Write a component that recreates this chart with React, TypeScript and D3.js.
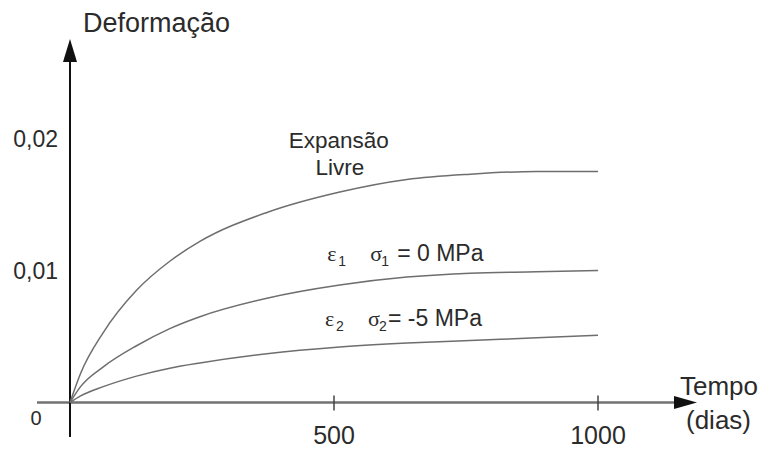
import React, { useEffect, useRef } from "react";
import * as d3 from "d3";

// leitura aproximada do gráfico (dias x deformação)
const days = [0, 20, 63, 126, 189, 246, 373, 511, 638, 758, 884, 1000];
const livre = [0, 0.0022, 0.0053, 0.0085, 0.0107, 0.0122, 0.0144, 0.01595, 0.0169, 0.0173, 0.0175, 0.0175];
const sigma0 = [0, 0.0012, 0.0027, 0.0043, 0.0056, 0.0065, 0.0079, 0.0089, 0.0095, 0.0098, 0.0099, 0.01];
const sigma5 = [0, 0.0005, 0.0012, 0.002, 0.0026, 0.003, 0.0037, 0.0042, 0.0045, 0.0047, 0.0049, 0.0051];

const xTicks = [500, 1000];
const yTicks = [0.01, 0.02];
const yTickLabels = ["0,01", "0,02"];

export default function App() {
    const ref = useRef<SVGSVGElement>(null);

    useEffect(() => {
        const svg = d3.select(ref.current);
        svg.selectAll("*").remove();

        const x = d3.scaleLinear().domain([0, 1000]).range([70, 598]);
        const y = d3.scaleLinear().domain([0, 0.02]).range([402.5, 138.5]);
        const font = "'Liberation Sans', Arial, sans-serif";
        const serif = "'Liberation Serif', 'DejaVu Serif', serif";
        const ink = "#2b2b2b";

        // eixos
        svg.append("line")
            .attr("x1", 37).attr("x2", 680)
            .attr("y1", y(0)).attr("y2", y(0))
            .attr("stroke", "#727272").attr("stroke-width", 2.5);
        svg.append("polygon")
            .attr("points", [[697, y(0)], [674, y(0) - 6.5], [674, y(0) + 6.5]].join(" "))
            .attr("fill", "#111");

        svg.append("line")
            .attr("x1", x(0)).attr("x2", x(0))
            .attr("y1", 437).attr("y2", 58)
            .attr("stroke", "#111").attr("stroke-width", 2);
        svg.append("polygon")
            .attr("points", [[x(0), 39], [x(0) - 7, 62], [x(0) + 7, 62]].join(" "))
            .attr("fill", "#111");

        // ticks do eixo x
        svg.selectAll(".xtick")
            .data(xTicks)
            .enter()
            .append("line")
            .attr("x1", d => x(d)).attr("x2", d => x(d))
            .attr("y1", y(0) - 7).attr("y2", y(0) + 8)
            .attr("stroke", "#444").attr("stroke-width", 1.5);

        svg.selectAll(".xlabel")
            .data(xTicks)
            .enter()
            .append("text")
            .attr("x", d => x(d)).attr("y", 444)
            .attr("text-anchor", "middle")
            .attr("font-family", font).attr("font-size", 25).attr("fill", ink)
            .text(d => String(d));

        svg.selectAll(".ylabel")
            .data(yTicks)
            .enter()
            .append("text")
            .attr("x", 58).attr("y", d => y(d) + 8)
            .attr("text-anchor", "end")
            .attr("font-family", font).attr("font-size", 23).attr("fill", ink)
            .text((d, i) => yTickLabels[i]);

        svg.append("text")
            .attr("x", 36).attr("y", 425)
            .attr("text-anchor", "middle")
            .attr("font-family", font).attr("font-size", 20).attr("fill", ink)
            .text("0");

        // títulos dos eixos
        svg.append("text")
            .attr("x", 83).attr("y", 32)
            .attr("font-family", font).attr("font-size", 27).attr("fill", ink)
            .text("Deformação");
        svg.append("text")
            .attr("x", 680).attr("y", 395)
            .attr("font-family", font).attr("font-size", 26).attr("fill", ink)
            .text("Tempo");
        svg.append("text")
            .attr("x", 686).attr("y", 429)
            .attr("font-family", font).attr("font-size", 26).attr("fill", ink)
            .text("(dias)");

        // curvas
        const line = d3.line<number>()
            .x((d, i) => x(days[i]))
            .y(d => y(d))
            .curve(d3.curveMonotoneX);

        [livre, sigma0, sigma5].forEach(s => {
            svg.append("path")
                .attr("d", line(s))
                .attr("fill", "none")
                .attr("stroke", "#6e6e6e")
                .attr("stroke-width", 1.5);
        });

        // anotações
        const t = svg.append("text")
            .attr("x", x(509)).attr("y", y(0.0193))
            .attr("text-anchor", "middle")
            .attr("font-family", font).attr("font-size", 22.5).attr("fill", ink);
        t.append("tspan").text("Expansão");
        t.append("tspan").attr("x", x(511)).attr("dy", 27).text("Livre");

        const label = (x0: number, b: number, sub: string, rest: string, dxRest: number) => {
            const g = svg.append("g").attr("fill", ink);
            g.append("text").attr("x", x0).attr("y", b)
                .attr("font-family", serif).attr("font-size", 22).text("ε");
            g.append("text").attr("x", x0 + 11).attr("y", b + 5)
                .attr("font-family", font).attr("font-size", 14).text(sub);
            g.append("text").attr("x", x0 + 43).attr("y", b)
                .attr("font-family", serif).attr("font-size", 22).text("σ");
            g.append("text").attr("x", x0 + 54).attr("y", b + 5)
                .attr("font-family", font).attr("font-size", 14).text(sub);
            g.append("text").attr("x", x0 + dxRest).attr("y", b)
                .attr("font-family", font).attr("font-size", 23).text(rest);
        };
        label(x(487), y(0.0107), "1", "= 0 MPa", 70);
        label(x(483), y(0.0058), "2", "= -5 MPa", 63);
    }, []);

    return (
        <svg ref={ref} width={770} height={449}
            style={{ position: "absolute", left: 0, top: 0, background: "#fff" }} />
    );
}
